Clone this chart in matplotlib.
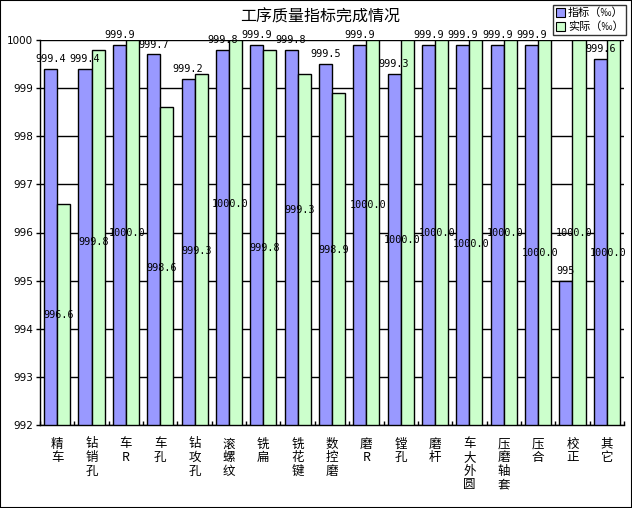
import matplotlib
matplotlib.use("Agg")
import matplotlib.pyplot as plt
import numpy as np
from matplotlib.patches import Rectangle, Patch

categories = ["精\n车", "钻\n销\n孔", "车\nR", "车\n孔", "钻\n攻\n孔", "滚\n螺\n纹", "铣\n扁",
              "铣\n花\n键", "数\n控\n磨", "磨\nR", "镗\n孔", "磨\n杆", "车\n大\n外\n圆",
              "压\n磨\n轴\n套", "压\n合", "校\n正", "其\n它"]
target = [999.4, 999.4, 999.9, 999.7, 999.2, 999.8, 999.9, 999.8, 999.5, 999.9, 999.3,
          999.9, 999.9, 999.9, 999.9, 995.0, 999.6]
actual = [996.6, 999.8, 1000.0, 998.6, 999.3, 1000.0, 999.8, 999.3, 998.9, 1000.0, 1000.0,
          1000.0, 1000.0, 1000.0, 1000.0, 1000.0, 1000.0]
# vertical placement (in axis units) of the "actual" labels as they appear in the original
actual_label_pos = [994.28, 995.81, 995.98, 995.27, 995.62, 996.60, 995.67, 996.47, 995.63,
                    996.57, 995.84, 995.99, 995.76, 995.99, 995.58, 995.99, 995.58]
yticks = [992, 993, 994, 995, 996, 997, 998, 999, 1000]
series_names = ["指标（‰）", "实际（‰）"]
title = "工序质量指标完成情况"

blue = "#9999FF"
green = "#CCFFCC"
cjk = ["Noto Sans CJK SC", "DejaVu Sans"]

fig = plt.figure(figsize=(6.32, 5.08), dpi=100)
ax = fig.add_axes([40/632, 1-425/508, 584/632, 385/508])

x = np.arange(len(categories))
w = 0.38
ax.bar(x - w/2, target, w, color=blue, edgecolor="black", linewidth=1.0, zorder=2)
ax.bar(x + w/2, actual, w, color=green, edgecolor="black", linewidth=1.0, zorder=2)

for xi, v in zip(x, target):
    ax.annotate("%g" % v, (xi - w/2, v), xytext=(0, 3.5), textcoords="offset points",
                ha="center", va="bottom", fontsize=7.3, family="DejaVu Sans Mono", zorder=5,
                annotation_clip=False)
for xi, v, ly in zip(x, actual, actual_label_pos):
    ax.text(xi + 0.05, ly, "%.1f" % v, ha="center", va="center", fontsize=7.3,
            family="DejaVu Sans Mono", zorder=5)

ax.set_xlim(-0.5, len(categories) - 0.5)
ax.set_ylim(992, 1000)
ax.set_yticks(yticks)
ax.set_yticklabels([str(t) for t in yticks], fontsize=7.5)
ax.yaxis.grid(True, color="black", linewidth=1.0, zorder=0)
ax.set_axisbelow(True)
ax.set_xticks(x)
ax.set_xticklabels(categories, family=cjk, fontsize=9, linespacing=1.05, va="top")
ax.tick_params(axis="x", which="major", length=0, pad=9)
ax.set_xticks(np.arange(-0.5, len(categories)), minor=True)
ax.tick_params(axis="x", which="minor", direction="in", length=3, width=1)
ax.tick_params(axis="y", direction="out", length=3, width=1, pad=2)
for s in ["top", "right"]:
    ax.spines[s].set_visible(False)
for s in ["left", "bottom"]:
    ax.spines[s].set_linewidth(1.0)

fig.text(320/632, 1-17/508, title, ha="center", va="center", family=cjk, fontsize=11.5)

handles = [Patch(facecolor=blue, edgecolor="black", linewidth=0.8),
           Patch(facecolor=green, edgecolor="black", linewidth=0.8)]
leg = fig.legend(handles, series_names, loc="upper left", bbox_to_anchor=(553/632, 1-5/508),
                 prop={"family": cjk, "size": 8}, frameon=True, fancybox=False,
                 handlelength=0.8, handleheight=0.8, handletextpad=0.3, borderpad=0.25,
                 labelspacing=0.3, borderaxespad=0)
leg.get_frame().set_edgecolor("black")
leg.get_frame().set_linewidth(1.0)

fig.patches.append(Rectangle((0, 0), 1, 1, transform=fig.transFigure, fill=False,
                             edgecolor="black", linewidth=1.5))

fig.savefig("out.png", dpi=100)
